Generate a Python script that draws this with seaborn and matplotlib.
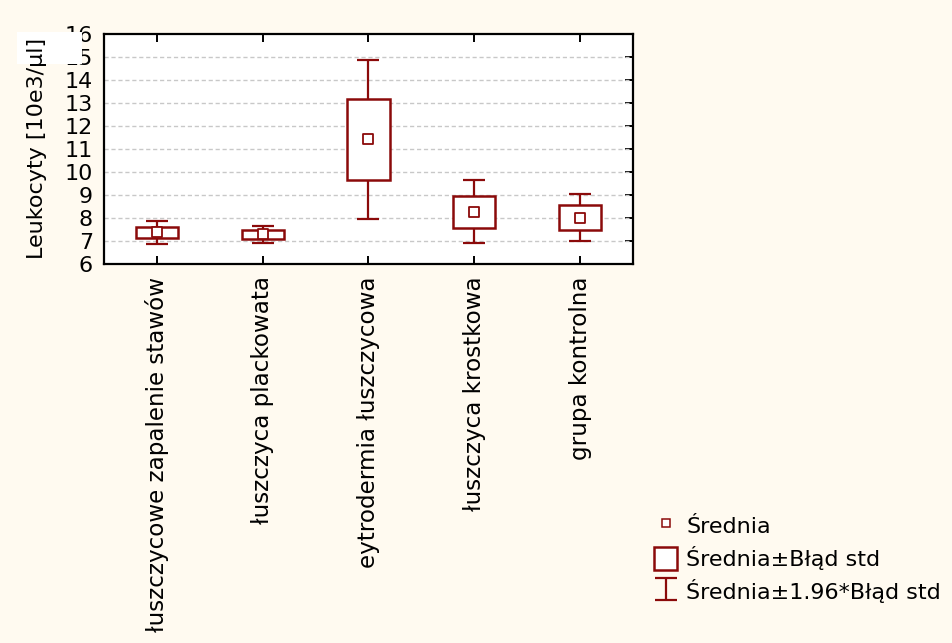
import matplotlib
matplotlib.use("Agg")
import matplotlib.pyplot as plt
import seaborn as sns
import numpy as np
import pandas as pd
from matplotlib.patches import Rectangle
from matplotlib.lines import Line2D

# ---- data ----
categories = ["łuszczycowe zapalenie stawów", "łuszczyca plackowata",
              "eytrodermia łuszczycowa", "łuszczyca krostkowa", "grupa kontrolna"]
means = [7.37, 7.29, 11.42, 8.27, 8.02]
std_err = [0.25, 0.19, 1.76, 0.70, 0.53]
y_ticks = [6, 7, 8, 9, 10, 11, 12, 13, 14, 15, 16]
y_label = "Leukocyty [10e3/µl]"
legend_labels = ["Średnia", "Średnia±Błąd std", "Średnia±1.96*Błąd std"]

RED = "#8b0a0a"
BG = "#fffaf0"
FS = 16

sns.set_theme(style="white")
plt.rcParams["font.family"] = ["DejaVu Sans"]
plt.rcParams["text.color"] = "black"
plt.rcParams["axes.labelcolor"] = "black"
plt.rcParams["xtick.color"] = "black"
plt.rcParams["ytick.color"] = "black"

fig = plt.figure(figsize=(9.53, 6.43), dpi=100, facecolor=BG)
ax = fig.add_axes([104 / 953, 1 - 264 / 643, 529 / 953, 230 / 643])
ax.set_facecolor("white")

df = pd.DataFrame({"cat": categories, "mean": means, "se": std_err})
df["x"] = np.arange(len(df))
m = df["mean"].to_numpy()
se = df["se"].to_numpy()

# whiskers: mean ± 1.96*SE
eb = ax.errorbar(df["x"], m, yerr=1.96 * se, fmt="none", ecolor=RED,
                 elinewidth=1.6, capsize=8, capthick=1.6, zorder=2)
# boxes: mean ± SE
ax.bar(df["x"], 2 * se, bottom=m - se, width=0.4, facecolor="white",
       edgecolor=RED, linewidth=1.8, zorder=3)
# means
sns.scatterplot(data=df, x="x", y="mean", marker="s", s=60, facecolor="white",
                edgecolor=RED, linewidth=1.3, zorder=4, ax=ax, legend=False)

ax.set_xlim(-0.5, len(df) - 0.5)
ax.set_ylim(6, 16)
ax.set_yticks(y_ticks)
ax.set_yticklabels([str(t) for t in y_ticks], fontsize=FS)
ax.set_xticks(df["x"])
ax.set_xticklabels(df["cat"], rotation=90, fontsize=16.6, va="top")
ax.set_xlabel("")
ax.set_ylabel("")

for t in y_ticks[1:-1]:
    ax.axhline(t, color="#c8c8c8", lw=1, ls=(0, (3, 2)), zorder=1)

for s in ax.spines.values():
    s.set_color("black")
    s.set_linewidth(1.6)
    s.set_visible(True)

ax.tick_params(axis="x", direction="in", length=6, width=1.4, color="black",
               top=True, bottom=True, pad=9)
ax.tick_params(axis="y", direction="in", length=6, width=1.4, color="black",
               left=False, right=True, pad=8)

# legend
box_handle = Rectangle((0, 0), 1, 1, facecolor="white", edgecolor=RED, linewidth=1.8)
mean_handle = Line2D([], [], ls="none", marker="s", markersize=6,
                     markerfacecolor="white", markeredgecolor=RED, markeredgewidth=1.1)
leg = fig.legend([mean_handle, box_handle, eb], legend_labels,
                 loc="upper left", bbox_to_anchor=(634 / 953, 1 - 494 / 643),
                 frameon=False, fontsize=FS, handlelength=1.05, handleheight=1.2,
                 handletextpad=0.4, labelspacing=0.4)

# white patch artifact at top-left (covers part of the top tick labels)
fig.patches.append(Rectangle((17 / 953, 1 - 64 / 643), 65 / 953, 32 / 643,
                             transform=fig.transFigure, facecolor="white",
                             edgecolor="none", zorder=10))

# y-axis title drawn above the patch
fig.text(37 / 953, 1 - 148 / 643, y_label, rotation=90, ha="center", va="center",
         fontsize=FS, color="black", zorder=20)

fig.savefig("out.png", dpi=100, facecolor=BG)
